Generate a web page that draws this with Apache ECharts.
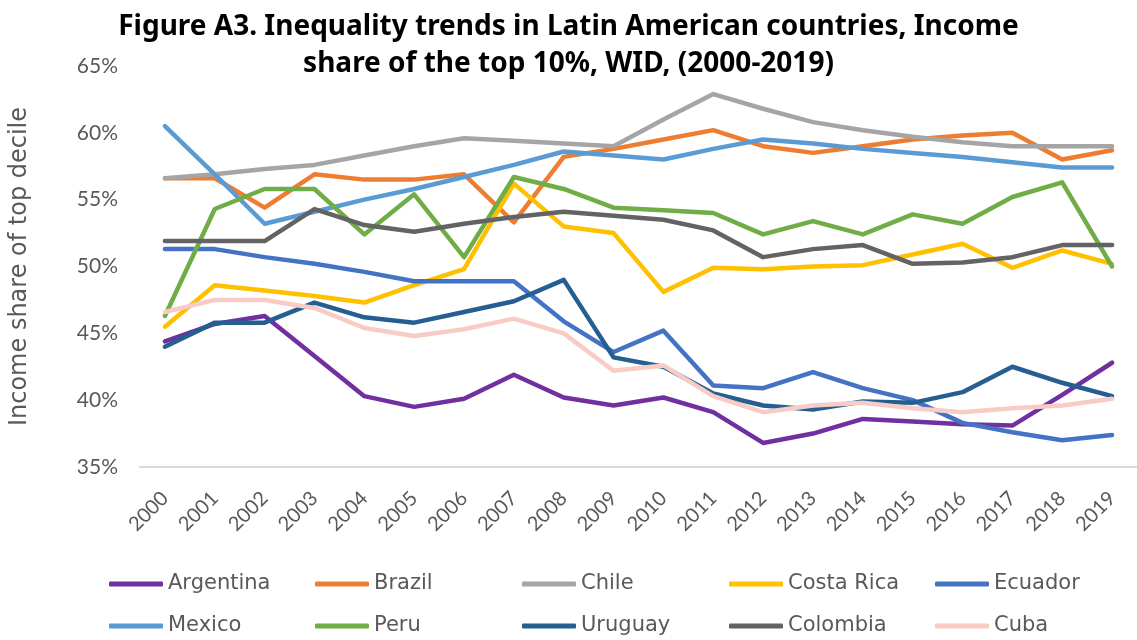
<!DOCTYPE html>
<html>
<head>
<meta charset="utf-8">
<script src="https://cdn.jsdelivr.net/npm/echarts@6/dist/echarts.min.js"></script>
<style>
  html, body { margin: 0; padding: 0; background: #fff; }
  #chart { width: 1137px; height: 640px; }
</style>
</head>
<body>
<div id="chart"></div>
<script>
// Years on the category axis
const years = ['2000','2001','2002','2003','2004','2005','2006','2007','2008','2009',
               '2010','2011','2012','2013','2014','2015','2016','2017','2018','2019'];

// Income share of the top 10% (percent), WID
const argentina = [44.4, 45.7, 46.3, 43.3, 40.3, 39.5, 40.1, 41.9, 40.2, 39.6, 40.2, 39.1, 36.8, 37.5, 38.6, 38.4, 38.2, 38.1, 40.4, 42.8];
const brazil    = [56.6, 56.6, 54.4, 56.9, 56.5, 56.5, 56.9, 53.3, 58.2, 58.8, 59.5, 60.2, 59.0, 58.5, 59.0, 59.5, 59.8, 60.0, 58.0, 58.7];
const chile     = [56.6, 56.9, 57.3, 57.6, 58.3, 59.0, 59.6, 59.4, 59.2, 59.0, 61.0, 62.9, 61.8, 60.8, 60.2, 59.7, 59.3, 59.0, 59.0, 59.0];
const costaRica = [45.5, 48.6, 48.2, 47.8, 47.3, 48.6, 49.8, 56.2, 53.0, 52.5, 48.1, 49.9, 49.8, 50.0, 50.1, 50.9, 51.7, 49.9, 51.2, 50.2];
const ecuador   = [51.3, 51.3, 50.7, 50.2, 49.6, 48.9, 48.9, 48.9, 45.9, 43.6, 45.2, 41.1, 40.9, 42.1, 40.9, 40.0, 38.3, 37.6, 37.0, 37.4];
const mexico    = [60.5, 56.9, 53.2, 54.1, 55.0, 55.8, 56.7, 57.6, 58.6, 58.3, 58.0, 58.8, 59.5, 59.2, 58.8, 58.5, 58.2, 57.8, 57.4, 57.4];
const peru      = [46.3, 54.3, 55.8, 55.8, 52.4, 55.4, 50.7, 56.7, 55.8, 54.4, 54.2, 54.0, 52.4, 53.4, 52.4, 53.9, 53.2, 55.2, 56.3, 50.0];
const uruguay   = [44.0, 45.8, 45.8, 47.3, 46.2, 45.8, 46.6, 47.4, 49.0, 43.2, 42.5, 40.5, 39.6, 39.3, 39.9, 39.8, 40.6, 42.5, 41.3, 40.3];
const colombia  = [51.9, 51.9, 51.9, 54.3, 53.1, 52.6, 53.2, 53.7, 54.1, 53.8, 53.5, 52.7, 50.7, 51.3, 51.6, 50.2, 50.3, 50.7, 51.6, 51.6];
const cuba      = [46.6, 47.5, 47.5, 46.9, 45.4, 44.8, 45.3, 46.1, 45.0, 42.2, 42.6, 40.3, 39.1, 39.6, 39.8, 39.4, 39.1, 39.4, 39.6, 40.1];

// Y-axis ticks (percent)
const yMin = 35, yMax = 65, yStep = 5;

const countries = [
  { name: 'Argentina',  data: argentina, color: '#7030A0' },
  { name: 'Brazil',     data: brazil,    color: '#ED7D31' },
  { name: 'Chile',      data: chile,     color: '#A5A5A5' },
  { name: 'Costa Rica', data: costaRica, color: '#FFC000' },
  { name: 'Ecuador',    data: ecuador,   color: '#4472C4' },
  { name: 'Mexico',     data: mexico,    color: '#5B9BD5' },
  { name: 'Peru',       data: peru,      color: '#70AD47' },
  { name: 'Uruguay',    data: uruguay,   color: '#255E91' },
  { name: 'Colombia',   data: colombia,  color: '#636363' },
  { name: 'Cuba',       data: cuba,      color: '#F8CBC4' }
];

const FONT = 'Lato, "Noto Sans", sans-serif';
const WIDE_FONT = '"DejaVu Sans", "Noto Sans", sans-serif';
const TITLE_FONT = '"Noto Sans", Lato, sans-serif';
const GREY_TEXT = '#595959';

// Legend laid out as a 5 x 2 table
const legendCols = [109, 315, 522, 729, 935];
const legendRows = [572, 614];
const legends = countries.map((c, i) => ({
  data: [c.name],
  left: legendCols[i % 5],
  top: legendRows[Math.floor(i / 5)],
  icon: 'roundRect',
  itemWidth: 54,
  itemHeight: 5,
  padding: 0,
  selectedMode: false,
  textStyle: { fontFamily: WIDE_FONT, fontSize: 21, color: GREY_TEXT, lineHeight: 24 }
}));

const chart = echarts.init(document.getElementById('chart'), null, { renderer: 'canvas' });
chart.setOption({
  animation: false,
  backgroundColor: '#ffffff',
  color: countries.map(c => c.color),
  title: {
    text: 'Figure A3. Inequality trends in Latin American countries, Income\nshare of the top 10%, WID, (2000-2019)',
    left: 'center',
    top: 9,
    padding: 0,
    textStyle: { fontFamily: TITLE_FONT, fontSize: 28, fontWeight: 'bold', color: '#000', lineHeight: 37 }
  },
  legend: legends,
  grid: { left: 133, top: 66, width: 1010, height: 401 },
  xAxis: {
    type: 'category',
    data: years,
    boundaryGap: true,
    axisTick: { show: false },
    axisLine: { lineStyle: { color: '#D9D9D9', width: 2 } },
    axisLabel: { interval: 0, rotate: 45, margin: 28, fontFamily: FONT, fontSize: 20, color: GREY_TEXT }
  },
  yAxis: {
    type: 'value',
    min: yMin, max: yMax, interval: yStep,
    name: 'Income share of top decile',
    nameLocation: 'middle',
    nameGap: 108,
    nameTextStyle: { fontFamily: WIDE_FONT, fontSize: 24, color: GREY_TEXT },
    axisLine: { show: false },
    axisTick: { show: false },
    splitLine: { show: false },
    axisLabel: { formatter: '{value}%', margin: 22, fontFamily: FONT, fontSize: 21, color: GREY_TEXT }
  },
  series: countries.map(c => ({
    name: c.name,
    type: 'line',
    data: c.data,
    symbol: 'none',
    lineStyle: { color: c.color, width: 4.5, cap: 'round', join: 'round' },
    itemStyle: { color: c.color }
  }))
});
</script>
</body>
</html>
